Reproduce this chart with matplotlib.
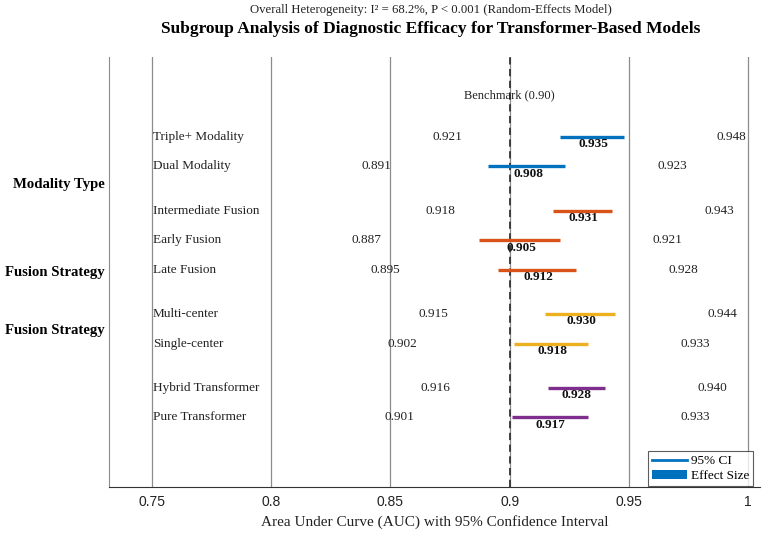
import matplotlib
matplotlib.use("Agg")
import matplotlib.pyplot as plt
from matplotlib.lines import Line2D
from matplotlib.patches import Patch

# ---- data ----
labels = ["Triple+ Modality", "Dual Modality",
          "Intermediate Fusion", "Early Fusion", "Late Fusion",
          "Multi-center", "Single-center",
          "Hybrid Transformer", "Pure Transformer"]
auc = [0.935, 0.908, 0.931, 0.905, 0.912, 0.930, 0.918, 0.928, 0.917]
lower = [0.921, 0.891, 0.918, 0.887, 0.895, 0.915, 0.902, 0.916, 0.901]
upper = [0.948, 0.923, 0.943, 0.921, 0.928, 0.944, 0.933, 0.940, 0.933]
group_of_row = [0, 0, 1, 1, 1, 2, 2, 3, 3]
ypos = [1, 2, 3.5, 4.5, 5.5, 7, 8, 9.5, 10.5]
group_names = ["Modality Type", "Fusion Strategy", "Fusion Strategy"]
group_label_y = [2.6, 5.6, 7.55]
colors = ["#0072BD", "#D95319", "#EDB120", "#7E2F8E"]
benchmark = 0.90
xticks = [0.75, 0.8, 0.85, 0.9, 0.95, 1.0]
xticklabels = ["0.75", "0.8", "0.85", "0.9", "0.95", "1"]

serif = "Liberation Serif"
sans = "Liberation Sans"

fig = plt.figure(figsize=(7.67, 5.38), dpi=100)
ax = fig.add_axes([0.142, 0.095, 0.849, 0.799])
ax.set_xlim(0.732, 1.005)
ax.set_ylim(12.86, -1.71)

# gridlines
for xt in xticks:
    ax.axvline(xt, color="#8c8c8c", lw=0.9, zorder=0)

# benchmark
ax.axvline(benchmark, color="#333333", lw=1.3, ls=(0, (4, 2.5)), zorder=1)
ax.text(benchmark, -0.42, "Benchmark (0.90)", ha="center", va="center",
        fontsize=9, family=serif, color="#222222")

for i, lab in enumerate(labels):
    c = colors[group_of_row[i]]
    y = ypos[i]
    ax.plot([lower[i], upper[i]], [y, y], color=c, lw=2.4, solid_capstyle="butt", zorder=3)
    ax.text(0.7505, y, lab, ha="left", va="center", fontsize=9.5, family=serif, color="#222222")
    ax.text(auc[i], y + 0.25, f"{auc[i]:.3f}", ha="center", va="center",
            fontsize=9.5, family=serif, fontweight="bold", color="#111111")
    ax.text(lower[i] - 0.047, y, f"{lower[i]:.3f}", ha="center", va="center",
            fontsize=9.5, family=serif, color="#222222")
    ax.text(upper[i] + 0.045, y, f"{upper[i]:.3f}", ha="center", va="center",
            fontsize=9.5, family=serif, color="#222222")

for name, gy in zip(group_names, group_label_y):
    ax.text(-0.007, gy, name, transform=ax.get_yaxis_transform(), ha="right", va="center",
            fontsize=10.6, family=serif, fontweight="bold", color="black")

# spines / ticks
for s in ["top", "right"]:
    ax.spines[s].set_visible(False)
ax.spines["left"].set_color("#8c8c8c")
ax.spines["bottom"].set_color("#333333")
ax.set_yticks([])
ax.set_xticks(xticks)
ax.set_xticklabels(xticklabels, family=sans, fontsize=10, color="#222222")
ax.tick_params(axis="x", length=0, pad=6)
ax.set_xlabel("Area Under Curve (AUC) with 95% Confidence Interval",
              family=serif, fontsize=11, labelpad=4, color="#222222")

handles = [Line2D([0], [0], color=colors[0], lw=2),
           Patch(facecolor=colors[0], edgecolor="none")]
leg = ax.legend(handles, ["95% CI", "Effect Size"], loc="lower right",
                prop={"family": serif, "size": 9.5}, frameon=True, fancybox=False,
                borderpad=0.3, handlelength=2.6, handletextpad=0.3, labelspacing=0.2,
                borderaxespad=0.05, bbox_to_anchor=(0.99, 0.0))
leg.get_frame().set_edgecolor("#333333")
leg.get_frame().set_linewidth(0.8)

fig.text(0.562, 0.981, "Overall Heterogeneity: I² = 68.2%, P < 0.001 (Random-Effects Model)",
         ha="center", va="center", family=serif, fontsize=9.2, color="#222222")
fig.text(0.562, 0.946, "Subgroup Analysis of Diagnostic Efficacy for Transformer-Based Models",
         ha="center", va="center", family=serif, fontsize=12.5, fontweight="bold")

fig.savefig("out.png", dpi=100)
